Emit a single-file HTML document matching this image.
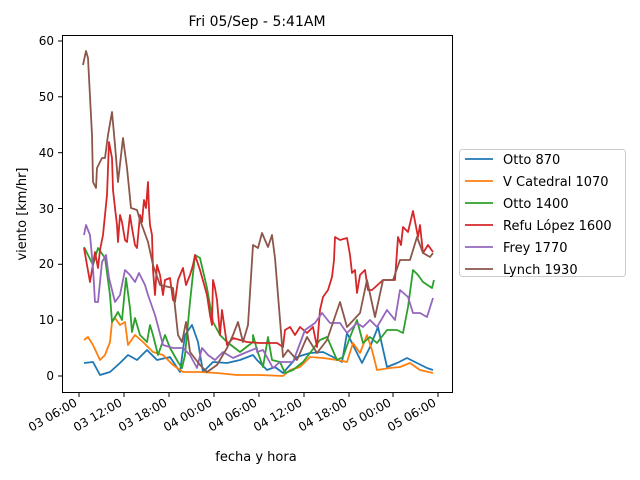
<!DOCTYPE html>
<html><head><meta charset="utf-8"><style>body{margin:0;background:#fff}svg{display:block;font-family:"DejaVu Sans","Liberation Sans",sans-serif}</style></head>
<body>
<svg width="640" height="480" viewBox="0 0 640 480" xmlns="http://www.w3.org/2000/svg">
<rect width="640" height="480" fill="#fff"/>
<text x="257" y="26" font-size="14" text-anchor="middle">Fri 05/Sep - 5:41AM</text>
<g fill="none" stroke-width="1.8" stroke-linejoin="round">
<polyline stroke="#1f77b4" points="84,363 93,362 100,375 110,372 120,363 128,355 137,360 147,350 157,360 170,357 180,372 185,335 192,325 198,342 203,372 213,362 227,363 240,360 253,355 257,360 267,370 275,367 283,373 297,357 310,353 323,352 333,357 342,362 347,333 357,353 362,363 370,347 378,327 387,367 397,363 407,358 417,363 427,368 433,370"/>
<polyline stroke="#ff7f0e" points="84,340 88,337 93,345 100,360 105,355 110,342 112,322 115,318 120,325 125,322 128,345 135,335 143,342 153,352 163,355 173,365 183,372 200,372 217,373 237,375 260,375 283,376 290,370 300,367 310,357 323,358 337,360 347,362 353,343 360,353 367,335 372,350 377,370 390,368 400,367 410,363 420,370 433,373"/>
<polyline stroke="#2ca02c" points="84,247 88,255 93,265 98,248 105,258 110,295 112,322 118,312 122,320 126,278 130,308 132,332 135,318 140,335 147,342 150,325 153,335 158,355 165,335 170,348 178,362 182,368 185,355 190,302 195,255 200,258 207,288 213,322 220,335 227,342 240,352 253,342 253,335 257,350 263,367 268,337 272,360 280,362 285,373 293,370 303,362 310,353 320,340 327,337 337,360 343,357 350,337 357,320 363,343 370,337 377,343 387,330 397,330 403,333 408,307 413,270 418,275 423,282 432,288 434,280"/>
<polyline stroke="#d62728" points="84,248 87,265 90,282 92,270 95,252 98,268 100,250 103,235 105,215 107,195 109,142 112,158 113,190 115,208 117,225 118,242 120,215 122,222 125,240 127,242 130,215 132,228 135,245 137,248 140,215 142,222 144,200 146,208 148,182 149,210 150,225 152,235 153,270 155,295 157,265 160,275 163,295 165,280 170,278 173,300 175,302 178,280 183,268 186,285 190,275 193,265 195,255 200,270 207,295 210,315 212,325 213,280 215,288 217,300 220,335 222,310 227,345 233,338 247,342 260,343 277,343 283,347 285,330 290,327 295,335 300,327 307,333 313,327 317,347 320,310 323,297 328,290 332,277 334,260 335,237 340,240 347,238 350,255 352,273 355,270 357,293 360,275 365,270 368,290 372,290 383,280 395,280 398,237 401,245 403,227 408,232 413,211 418,237 420,225 423,253 428,245 433,252"/>
<polyline stroke="#9467bd" points="84,235 86,225 90,235 93,268 95,302 98,302 102,262 106,255 109,278 115,302 120,295 125,270 130,275 135,282 139,273 145,285 148,295 155,315 163,345 173,348 183,348 190,355 197,368 202,348 208,355 215,360 223,352 233,358 247,352 257,348 257,352 263,350 273,368 280,362 293,362 305,330 315,323 322,313 330,323 340,323 347,333 357,323 363,327 370,320 377,327 387,310 395,320 400,290 408,297 413,313 420,313 427,317 433,298"/>
<polyline stroke="#8c564b" points="83,65 86,51 88,58 92,135 93,182 96,188 97,168 102,158 105,158 108,135 112,112 115,145 118,182 123,138 127,168 131,208 137,210 140,220 148,242 153,265 160,285 173,288 178,335 182,342 186,322 190,352 200,365 207,372 217,365 227,348 233,335 238,322 243,342 248,325 253,245 258,248 262,233 268,247 272,235 275,258 283,357 288,350 297,360 307,337 317,353 327,340 340,302 347,327 360,313 367,280 375,317 383,280 393,280 400,260 410,260 417,237 423,253 430,257 433,253"/>
</g>
<rect x="62.5" y="35.5" width="390" height="357" fill="none" stroke="#000" stroke-width="1"/>
<g stroke="#000" stroke-width="1">
<line x1="62" y1="376" x2="58" y2="376"/><line x1="62" y1="320.2" x2="58" y2="320.2"/><line x1="62" y1="264.3" x2="58" y2="264.3"/><line x1="62" y1="208.5" x2="58" y2="208.5"/><line x1="62" y1="152.7" x2="58" y2="152.7"/><line x1="62" y1="96.8" x2="58" y2="96.8"/><line x1="62" y1="41" x2="58" y2="41"/>
<line x1="79" y1="393" x2="79" y2="397"/><line x1="124" y1="393" x2="124" y2="397"/><line x1="169" y1="393" x2="169" y2="397"/><line x1="214" y1="393" x2="214" y2="397"/><line x1="259" y1="393" x2="259" y2="397"/><line x1="304" y1="393" x2="304" y2="397"/><line x1="349" y1="393" x2="349" y2="397"/><line x1="393" y1="393" x2="393" y2="397"/><line x1="438" y1="393" x2="438" y2="397"/>
</g>
<g font-size="12" text-anchor="end">
<text x="54" y="380">0</text><text x="54" y="324">10</text><text x="54" y="268">20</text><text x="54" y="213">30</text><text x="54" y="157">40</text><text x="54" y="101">50</text><text x="54" y="45">60</text>
<text transform="translate(78,405) rotate(-30)">03 06:00</text>
<text transform="translate(123,405) rotate(-30)">03 12:00</text>
<text transform="translate(168,405) rotate(-30)">03 18:00</text>
<text transform="translate(213,405) rotate(-30)">04 00:00</text>
<text transform="translate(258,405) rotate(-30)">04 06:00</text>
<text transform="translate(303,405) rotate(-30)">04 12:00</text>
<text transform="translate(348,405) rotate(-30)">04 18:00</text>
<text transform="translate(392,405) rotate(-30)">05 00:00</text>
<text transform="translate(437,405) rotate(-30)">05 06:00</text>
</g>
<text x="256" y="461" font-size="13" text-anchor="middle">fecha y hora</text>
<text transform="translate(26,214) rotate(-90)" font-size="13" text-anchor="middle">viento [km/hr]</text>
<rect x="459.5" y="149.5" width="166" height="127" rx="3" fill="#fff" stroke="#ccc"/>
<g stroke-width="1.8">
<line x1="465" y1="159" x2="493" y2="159" stroke="#1f77b4"/>
<line x1="465" y1="181" x2="493" y2="181" stroke="#ff7f0e"/>
<line x1="465" y1="203" x2="493" y2="203" stroke="#2ca02c"/>
<line x1="465" y1="225" x2="493" y2="225" stroke="#d62728"/>
<line x1="465" y1="247" x2="493" y2="247" stroke="#9467bd"/>
<line x1="465" y1="269" x2="493" y2="269" stroke="#8c564b"/>
</g>
<g font-size="13">
<text x="503" y="164">Otto 870</text>
<text x="503" y="186">V Catedral 1070</text>
<text x="503" y="208">Otto 1400</text>
<text x="503" y="230">Refu López 1600</text>
<text x="503" y="252">Frey 1770</text>
<text x="503" y="274">Lynch 1930</text>
</g>
</svg>
</body></html>
